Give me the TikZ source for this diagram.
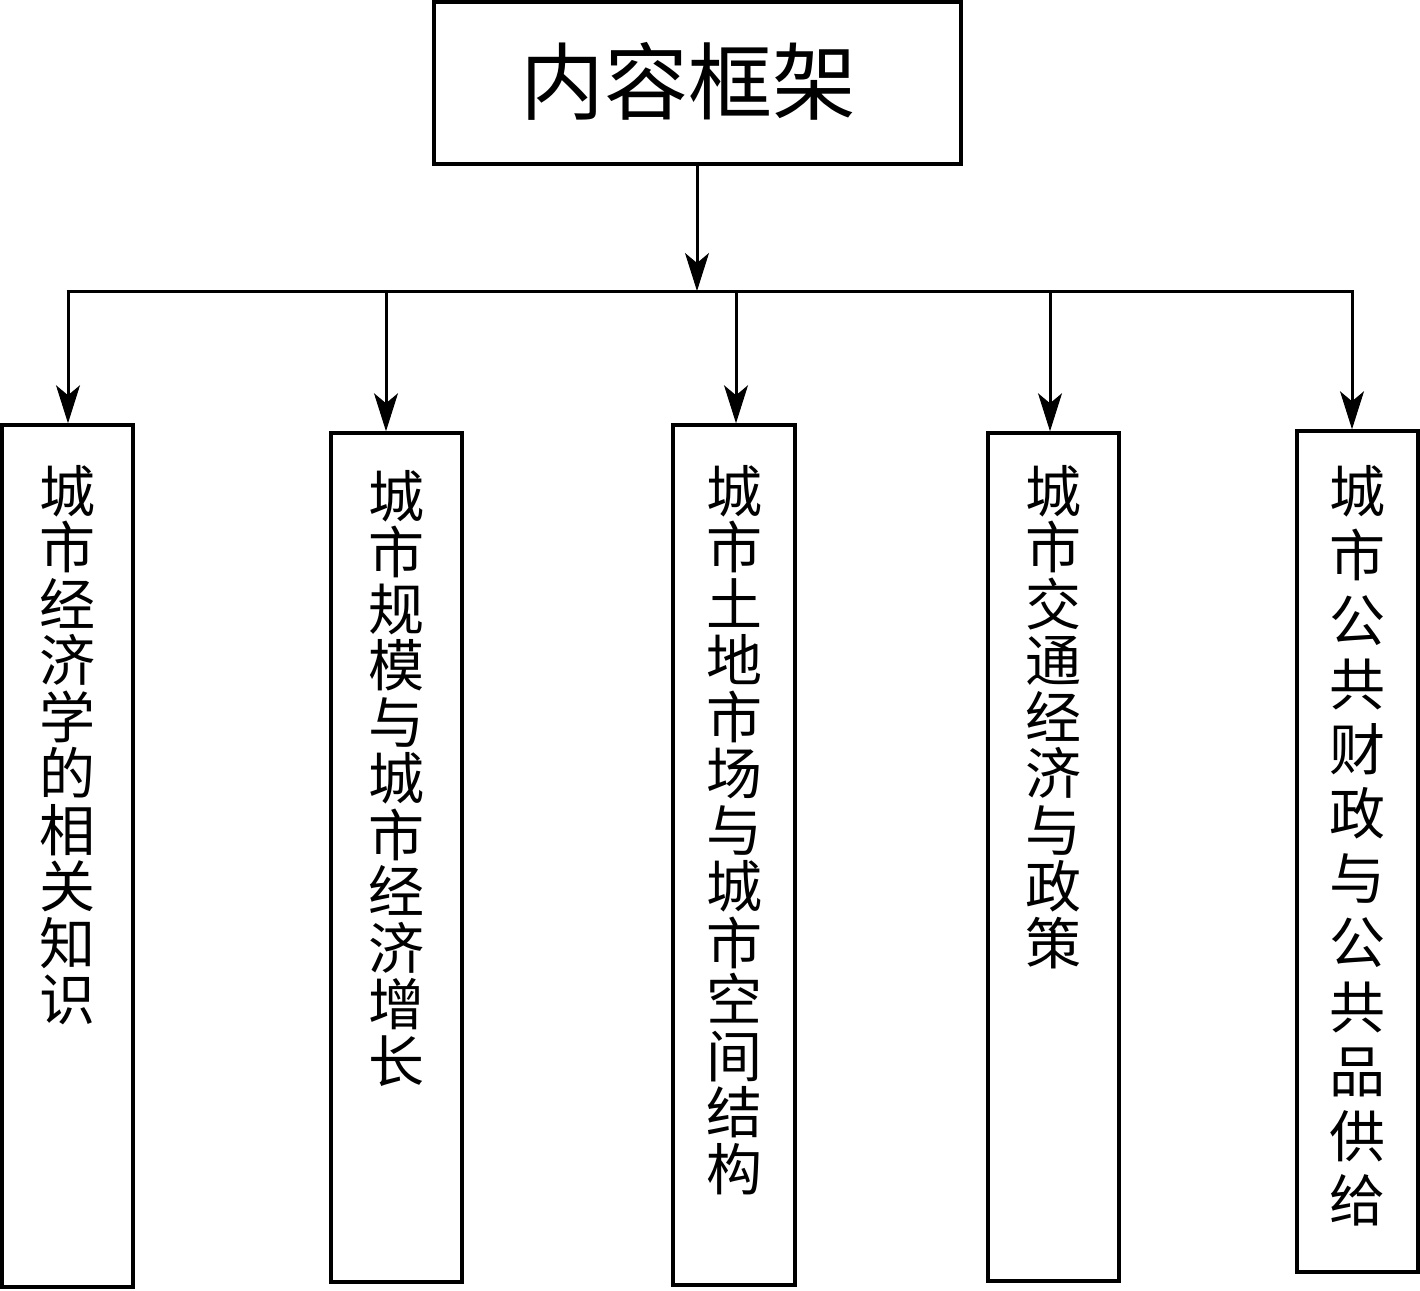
\documentclass[tikz,border=0pt]{standalone}
\usepackage{fontspec}
\setmainfont{Noto Sans CJK SC}
\usetikzlibrary{arrows.meta}
\newcommand{\colbox}[3][56.5]{\parbox[c][#2][t]{100pt}{\centering\fontsize{56}{#1}\selectfont #3}}
\begin{document}
\begin{tikzpicture}[x=1pt,y=-1pt,
  box/.style={draw,line width=3.5pt,inner sep=0pt,rectangle},
  link/.style={line width=3pt},
  arr/.style={line width=3pt,-{Stealth[length=38pt,width=24pt,inset=10pt,line width=1pt]}}]
\useasboundingbox (0,0) rectangle (1420,1290);
\node[box,minimum width=527pt,minimum height=162pt] (top) at (697.5,83)
  {\raisebox{10pt}{\hspace*{-18pt}\fontsize{84}{84}\selectfont 内容框架}};
\node[box,minimum width=131pt,minimum height=862pt] (b1) at (67.5,856)
  {\colbox{782pt}{城\\市\\经\\济\\学\\的\\相\\关\\知\\识}};
\node[box,minimum width=131pt,minimum height=849pt] (b2) at (396.5,857.5)
  {\colbox{775pt}{城\\市\\规\\模\\与\\城\\市\\经\\济\\增\\长}};
\node[box,minimum width=122pt,minimum height=860pt] (b3) at (734,855)
  {\colbox{780pt}{城\\市\\土\\地\\市\\场\\与\\城\\市\\空\\间\\结\\构}};
\node[box,minimum width=131pt,minimum height=848pt] (b4) at (1053.5,857)
  {\colbox{784pt}{城\\市\\交\\通\\经\\济\\与\\政\\策}};
\node[box,minimum width=121pt,minimum height=841pt] (b5) at (1357.5,851.5)
  {\colbox[64.5]{773pt}{城\\市\\公\\共\\财\\政\\与\\公\\共\\品\\供\\给}};
\coordinate (j) at (697,291);
\coordinate (t1) at (68,291);
\coordinate (t2) at (386,291);
\coordinate (t3) at (736,291);
\coordinate (t4) at (1050,291);
\coordinate (t5) at (1352,291);
\draw[arr] (top.south -| j) -- (j);
\draw[link] ([xshift=-1.5pt]t1) -- ([xshift=1.5pt]t5);
\draw[arr] (t1) -- (t1 |- b1.north);
\draw[arr] (t2) -- (t2 |- b2.north);
\draw[arr] (t3) -- (t3 |- b3.north);
\draw[arr] (t4) -- (t4 |- b4.north);
\draw[arr] (t5) -- (t5 |- b5.north);
\end{tikzpicture}
\end{document}
